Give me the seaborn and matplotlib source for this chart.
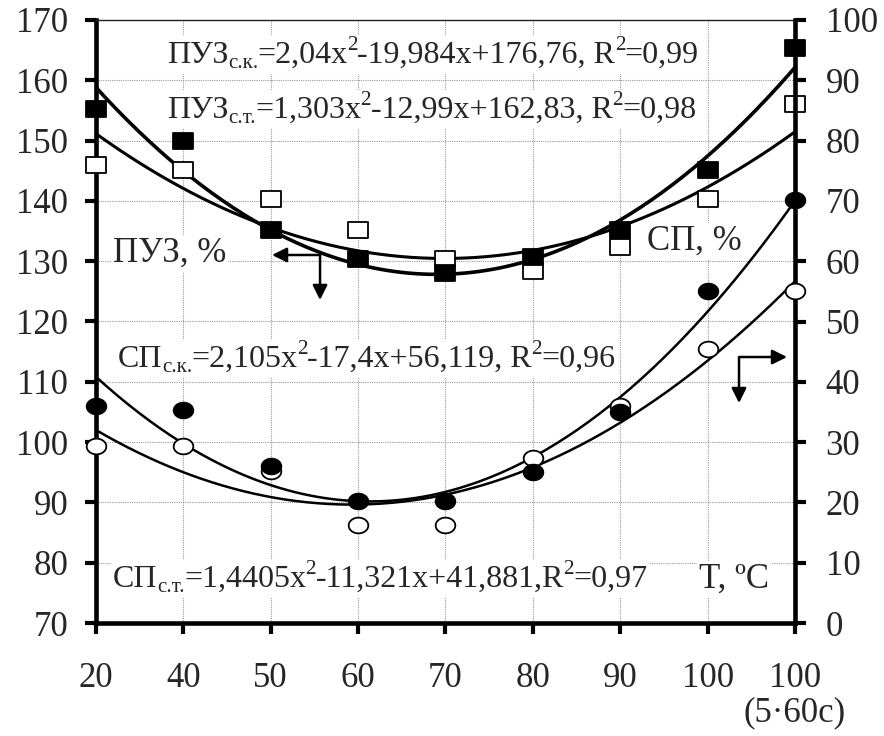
import numpy as np
import pandas as pd
import matplotlib
matplotlib.use("Agg")
import matplotlib.pyplot as plt
from matplotlib.path import Path
from matplotlib.patches import Rectangle
from matplotlib.transforms import IdentityTransform
import seaborn as sns

# ---- data ----------------------------------------------------------------
x_pos = [1, 2, 3, 4, 5, 6, 7, 8, 9]
x_labels = ["20", "40", "50", "60", "70", "80", "90", "100", "100\n(5·60c)"]

# ПУЗ, % (left axis)
puz_sk = [155.2, 150.0, 135.1, 130.3, 128.1, 130.7, 135.2, 145.2, 165.4]
puz_st = [146.0, 145.2, 140.3, 135.2, 130.3, 128.3, 132.3, 140.3, 156.1]
# СП, % (right axis)
sp_sk = [36.0, 35.3, 26.0, 20.2, 20.2, 25.0, 35.0, 55.0, 70.1]
sp_st = [29.3, 29.3, 25.2, 16.2, 16.2, 27.3, 36.0, 45.5, 55.0]

# quadratic trend coefficients (a, b, c): a*x^2 + b*x + c
coef_puz_sk = (2.04, -19.984, 176.76)
coef_puz_st = (1.303, -12.99, 162.83)
coef_sp_sk = (2.105, -17.4, 56.119)
coef_sp_st = (1.4405, -11.321, 41.881)

left_ticks = list(range(70, 171, 10))
right_ticks = list(range(0, 101, 10))

# ---- style ---------------------------------------------------------------
sns.set_theme(style="white")
plt.rcParams["font.family"] = ["Liberation Serif", "DejaVu Serif"]

DPI = 100
fig = plt.figure(figsize=(8.84, 7.36), dpi=DPI)
fig.patch.set_facecolor("white")
ax = fig.add_axes([96 / 884, 1 - 623 / 736, 699 / 884, 603 / 736])
ax2 = ax.twinx()

# markers slightly wider than tall
def rect_marker(w=1.2, h=1.0):
    return Path([(-w, -h), (w, -h), (w, h), (-w, h), (-w, -h)],
                [Path.MOVETO, Path.LINETO, Path.LINETO, Path.LINETO, Path.CLOSEPOLY])

def ellipse_marker(w=1.25, h=1.0, n=60):
    t = np.linspace(0, 2 * np.pi, n)
    verts = list(zip(w * np.cos(t), h * np.sin(t)))
    codes = [Path.MOVETO] + [Path.LINETO] * (n - 2) + [Path.CLOSEPOLY]
    return Path(verts, codes)

sq = rect_marker()
el = ellipse_marker()

def trend(coef, n=200):
    xs = np.linspace(x_pos[0], x_pos[-1], n)
    a, b, c = coef
    return pd.DataFrame({"x": xs, "y": a * xs ** 2 + b * xs + c})

# trend curves
for coef, lw, axis in [(coef_puz_sk, 2.6, ax), (coef_puz_st, 2.2, ax),
                       (coef_sp_sk, 1.8, ax2), (coef_sp_st, 1.8, ax2)]:
    d = trend(coef)
    sns.lineplot(data=d, x="x", y="y", ax=axis, color="black", lw=lw,
                 zorder=3, legend=False)

# data points
def points(axis, ys, marker, face, size):
    d = pd.DataFrame({"x": x_pos, "y": ys})
    sns.scatterplot(data=d, x="x", y="y", ax=axis, marker=marker, s=size,
                    color=face, edgecolor="black", linewidth=1.3,
                    zorder=6, clip_on=False, legend=False)

points(ax, puz_st, sq, "white", 190)
points(ax, puz_sk, sq, "black", 190)
points(ax2, sp_st, el, "white", 200)
points(ax2, sp_sk, el, "black", 200)

# ---- axes ----------------------------------------------------------------
ax.set_xlim(1, 9)
ax.set_ylim(70, 170)
ax2.set_ylim(0, 100)
ax.set_xticks(x_pos)
ax.set_xticklabels(x_labels, linespacing=1.05)
ax.set_yticks(left_ticks)
ax2.set_yticks(right_ticks)
ax.set_xlabel("")
ax.set_ylabel("")
ax2.set_ylabel("")

ax.grid(True, color="#9a9a9a", linestyle=(0, (1, 1)), linewidth=0.8)
ax2.grid(False)
ax.set_axisbelow(True)

for s in ["left", "bottom"]:
    ax.spines[s].set_linewidth(3.3)
    ax.spines[s].set_color("black")
ax.spines["right"].set_visible(False)
ax.spines["top"].set_linewidth(1.0)
ax.spines["top"].set_color("#222222")
ax2.spines["right"].set_linewidth(3.3)
ax2.spines["right"].set_color("black")
for s in ["left", "bottom", "top"]:
    ax2.spines[s].set_visible(False)

ax.tick_params(axis="y", which="major", direction="out", length=8, width=3.0,
               color="black", labelsize=25, pad=12, left=True)
ax.tick_params(axis="x", which="major", direction="out", length=8, width=3.0,
               color="black", labelsize=25, pad=20, bottom=True)
ax2.tick_params(axis="y", which="major", direction="out", length=8, width=3.0,
                color="black", labelsize=25, pad=14, right=True)

# ---- annotations ---------------------------------------------------------
renderer = fig.canvas.get_renderer()
box = dict(facecolor="white", edgecolor="none", pad=1.5)
eq_fs = 23


def rich_text(xf, yf, segments, fs):
    """Write a line made of normal ('n'), subscript ('b') and superscript ('p') runs
    on a white backing strip."""
    x, y = ax.transAxes.transform((xf, yf))
    x_start = x
    px = fs * DPI / 72.0
    ext = []
    for s, kind in segments:
        if kind == "n":
            size, dy = fs, 0.0
        elif kind == "b":
            size, dy = fs * 0.66, -0.16 * px
        else:
            size, dy = fs * 0.66, 0.40 * px
        t = fig.text(x, y + dy, s, transform=IdentityTransform(), fontsize=size,
                     va="baseline", ha="left", zorder=7)
        bb = t.get_window_extent(renderer)
        ext.append(bb)
        x = bb.x1 - 0.5
    y0 = min(b.y0 for b in ext) - 1
    y1 = max(b.y1 for b in ext) + 1
    fig.patches.append(Rectangle((x_start - 2, y0), x - x_start + 4, y1 - y0,
                                 transform=IdentityTransform(), facecolor="white",
                                 edgecolor="none", zorder=6.5))


rich_text(0.1016, 0.9287,
          [("ПУЗ", "n"), ("с.к.", "b"), ("=2,04x", "n"), ("2", "p"),
           ("-19,984x+176,76, R", "n"), ("2", "p"), ("=0,99", "n")], eq_fs)
rich_text(0.1016, 0.8375,
          [("ПУЗ", "n"), ("с.т.", "b"), ("=1,303x", "n"), ("2", "p"),
           ("-12,99x+162,83, R", "n"), ("2", "p"), ("=0,98", "n")], eq_fs)
rich_text(0.0315, 0.4245,
          [("СП", "n"), ("с.к.", "b"), ("=2,105x", "n"), ("2", "p"),
           ("-17,4x+56,119, R", "n"), ("2", "p"), ("=0,96", "n")], eq_fs)
rich_text(0.0243, 0.0597,
          [("СП", "n"), ("с.т.", "b"), ("=1,4405x", "n"), ("2", "p"),
           ("-11,321x+41,881,R", "n"), ("2", "p"), ("=0,97", "n")], eq_fs)

ax2.text(0.0243, 0.5987, "ПУЗ, %", transform=ax.transAxes, fontsize=25,
         va="baseline", ha="left", bbox=box, zorder=7)
ax2.text(0.788, 0.6186, "СП, %", transform=ax.transAxes, fontsize=25,
         va="baseline", ha="left", bbox=box, zorder=7)
ax2.text(0.8627, 0.058, "T, ºC", transform=ax.transAxes, fontsize=25,
         va="baseline", ha="left", bbox=box, zorder=7)

# direction arrows pointing to the relevant axes
arrow = dict(arrowstyle="-|>", lw=1.8, color="black", mutation_scale=22,
             shrinkA=0, shrinkB=0)
for start, end in [((0.3205, 0.6103), (0.2518, 0.6103)),
                   ((0.3205, 0.6103), (0.3205, 0.5357)),
                   ((0.9199, 0.4411), (0.9886, 0.4411)),
                   ((0.9199, 0.4411), (0.9199, 0.3648))]:
    ax2.annotate("", xy=end, xytext=start, xycoords=ax.transAxes,
                 textcoords=ax.transAxes, arrowprops=arrow, zorder=8)

fig.savefig("out.png", dpi=DPI, facecolor="white")
